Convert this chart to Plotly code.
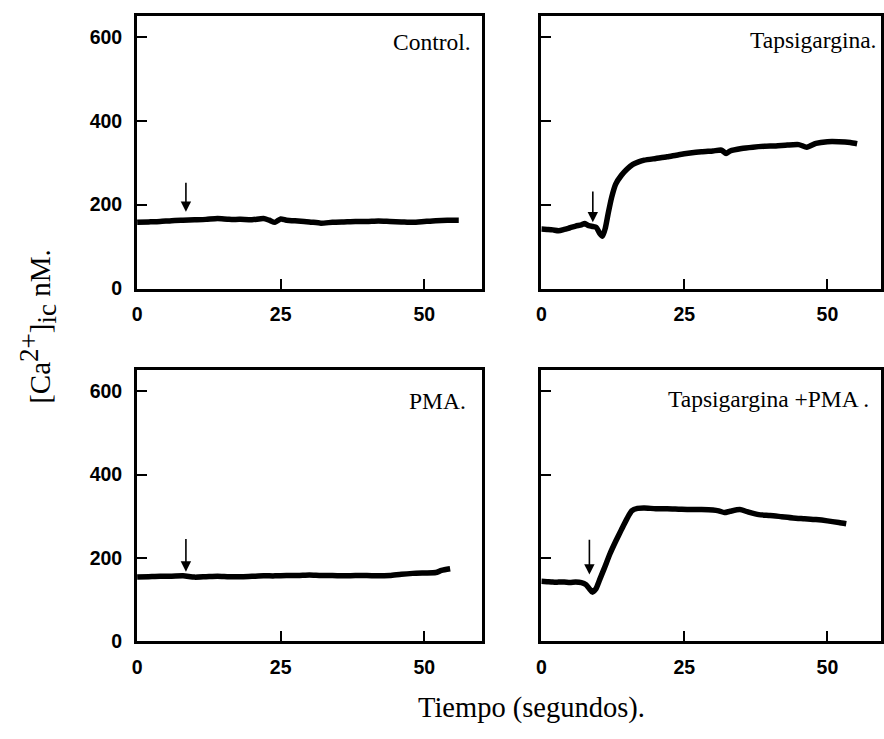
import plotly.graph_objects as go

# ---- data ----
control_x = [0, 2, 4, 6, 8, 10, 12, 14, 16, 18, 20, 22, 23, 24, 25, 26, 28, 30, 32, 34, 36, 38, 40, 42, 44, 46, 48, 50, 52, 54, 56]
control_y = [158, 159, 160, 162, 163, 164, 165, 167, 165, 165, 164, 167, 163, 158, 166, 163, 161, 159, 156, 158, 159, 160, 160, 161, 160, 159, 158, 160, 162, 163, 163]

tg_x = [0, 1, 2, 3, 4, 5, 6, 7, 7.6, 8.3, 9, 9.6, 10.2, 10.7, 11.2, 11.7, 12.3, 13, 14, 15, 16, 17, 18, 20, 22, 24, 26, 28, 30, 31.5, 32.3, 33, 35, 37, 39, 41, 43, 45, 46.4, 48, 50, 52, 54, 55.2]
tg_y = [142, 141, 140, 138, 141, 145, 149, 152, 155, 150, 148, 146, 132, 125, 145, 180, 218, 249, 270, 285, 296, 302, 306, 310, 314, 319, 323, 326, 328, 330, 322, 328, 334, 337, 339, 340, 342, 343, 337, 346, 350, 350, 348, 345]

pma_x = [0, 2, 4, 6, 8, 10, 12, 14, 16, 18, 20, 22, 24, 26, 28, 30, 32, 34, 36, 38, 40, 42, 44, 46, 48, 50, 52, 53, 54.5]
pma_y = [154, 155, 156, 156, 157, 154, 155, 156, 155, 155, 156, 157, 157, 158, 158, 159, 158, 158, 157, 158, 158, 157, 158, 161, 163, 164, 165, 170, 174]

tgpma_x = [0, 1, 2, 3, 4, 5, 6, 7, 7.8, 8.4, 8.9, 9.5, 10.2, 11, 12, 13, 14, 15, 15.8, 16.8, 18, 20, 22, 24, 26, 28, 30, 31, 32, 33, 34.7, 36, 38, 40, 42, 44, 46, 48, 50, 52, 53.3]
tgpma_y = [144, 143, 142, 142, 142, 141, 142, 141, 136, 126, 118, 125, 148, 175, 210, 240, 268, 295, 313, 319, 320, 318, 318, 317, 316, 316, 315, 313, 309, 312, 316, 311, 304, 302, 299, 296, 294, 292, 289, 285, 282]

panel_labels = ["Control.", "Tapsigargina.", "PMA.", "Tapsigargina +PMA ."]
arrow_x = [8.5, 9.0, 8.5, 8.4]
arrow_tip = [183, 158, 167, 160]
arrow_tail = [256, 235, 249, 247]

x_ticks = [0, 25, 50]
y_ticks = [0, 200, 400, 600]

# ---- figure ----
W, H = 884, 739
fig = go.Figure()
series = [(control_x, control_y), (tg_x, tg_y), (pma_x, pma_y), (tgpma_x, tgpma_y)]
axes = [("x", "y"), ("x2", "y2"), ("x3", "y3"), ("x4", "y4")]
for (sx, sy), (xa, ya) in zip(series, axes):
    fig.add_trace(go.Scatter(x=sx, y=sy, mode="lines", xaxis=xa, yaxis=ya,
                             line=dict(color="black", width=5.5, shape="spline", smoothing=0.6),
                             showlegend=False, hoverinfo="skip"))

xdom_left = [133 / W, 480 / W]
xdom_right = [540 / W, 882 / W]
ydom_top = [1 - 293 / H, 1 - 16 / H]
ydom_bot = [1 - 651 / H, 1 - 376 / H]

tickfont = dict(family="Liberation Sans, Arial, sans-serif", size=19.5, color="black", weight="bold")
common_x = dict(showline=True, mirror=True, linewidth=3, linecolor="black", ticks="inside",
                ticklen=10, tickwidth=2, tickcolor="black", tickvals=x_ticks, showgrid=False,
                zeroline=False, tickfont=tickfont, ticklabelstandoff=6)
common_y = dict(showline=True, mirror=True, linewidth=3, linecolor="black", ticks="inside",
                ticklen=10, tickwidth=2, tickcolor="black", tickvals=y_ticks, showgrid=False,
                zeroline=False, tickfont=tickfont, range=[0, 650], ticklabelstandoff=8)

right_range = [0, (882 - 540) / 5.76]
fig.update_layout(
    width=W, height=H, margin=dict(l=0, r=0, t=0, b=0),
    plot_bgcolor="white", paper_bgcolor="white",
    xaxis=dict(common_x, domain=xdom_left, range=[0, 60], anchor="y"),
    yaxis=dict(common_y, domain=ydom_top, anchor="x"),
    xaxis2=dict(common_x, domain=xdom_right, range=right_range, anchor="y2"),
    yaxis2=dict(common_y, domain=ydom_top, anchor="x2", showticklabels=False),
    xaxis3=dict(common_x, domain=xdom_left, range=[0, 60], anchor="y3"),
    yaxis3=dict(common_y, domain=ydom_bot, anchor="x3"),
    xaxis4=dict(common_x, domain=xdom_right, range=right_range, anchor="y4"),
    yaxis4=dict(common_y, domain=ydom_bot, anchor="x4", showticklabels=False),
)

serif = "Liberation Serif, Times New Roman, serif"
label_pos = [(58.5, 588), (59.0, 592), (57.6, 576), (57.6, 581)]
for i, (xa, ya) in enumerate(axes):
    lx, ly = label_pos[i]
    fig.add_annotation(x=lx, y=ly, xref=xa, yref=ya, text=panel_labels[i], showarrow=False,
                       xanchor="right", yanchor="middle",
                       font=dict(family=serif, size=23.5, color="black"))
    fig.add_annotation(x=arrow_x[i], y=arrow_tip[i], ax=arrow_x[i], ay=arrow_tail[i],
                       xref=xa, yref=ya, axref=xa, ayref=ya, text="", showarrow=True,
                       arrowhead=2, arrowsize=1.3, arrowwidth=1.6, arrowcolor="black")

fig.add_annotation(x=530 / W, y=1 - 719 / H, xref="paper", yref="paper",
                   text="Tiempo (segundos).", showarrow=False, xanchor="center", yanchor="middle",
                   font=dict(family=serif, size=28.5, color="black"))
fig.add_annotation(x=33 / W, y=1 - 331 / H, xref="paper", yref="paper",
                   text="[Ca<sup><span style='font-size:27px'>2+</span></sup>]"
                        "<sub><span style='font-size:27px'>ic</span></sub> nM.",
                   showarrow=False, textangle=-90,
                   xanchor="center", yanchor="middle",
                   font=dict(family=serif, size=29, color="black"))

fig.write_html("out.html", config={"displayModeBar": False},
               post_script="document.body.style.margin='0';document.body.style.overflow='hidden';")
